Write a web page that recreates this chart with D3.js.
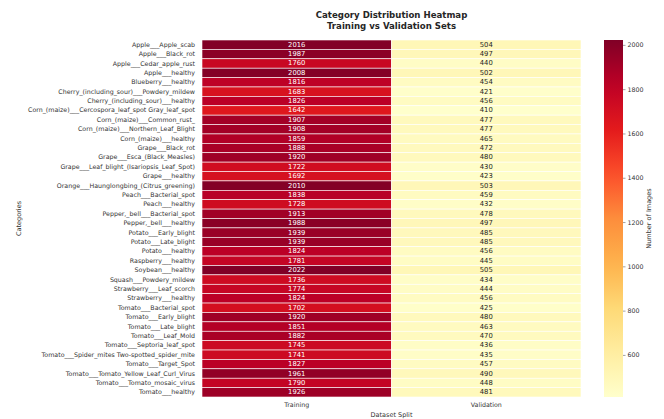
<!DOCTYPE html>
<html>
<head>
<meta charset="utf-8">
<script src="https://cdn.jsdelivr.net/npm/d3@7"></script>
<style>
  html, body { margin: 0; padding: 0; background: #fff; }
  svg { display: block; font-family: "DejaVu Sans", sans-serif; }
</style>
</head>
<body>
<svg id="chart" width="664" height="419"></svg>
<script>
// Plant disease classes and the number of images in each split
const categories = [
  "Apple___Apple_scab",
  "Apple___Black_rot",
  "Apple___Cedar_apple_rust",
  "Apple___healthy",
  "Blueberry___healthy",
  "Cherry_(including_sour)___Powdery_mildew",
  "Cherry_(including_sour)___healthy",
  "Corn_(maize)___Cercospora_leaf_spot Gray_leaf_spot",
  "Corn_(maize)___Common_rust_",
  "Corn_(maize)___Northern_Leaf_Blight",
  "Corn_(maize)___healthy",
  "Grape___Black_rot",
  "Grape___Esca_(Black_Measles)",
  "Grape___Leaf_blight_(Isariopsis_Leaf_Spot)",
  "Grape___healthy",
  "Orange___Haunglongbing_(Citrus_greening)",
  "Peach___Bacterial_spot",
  "Peach___healthy",
  "Pepper,_bell___Bacterial_spot",
  "Pepper,_bell___healthy",
  "Potato___Early_blight",
  "Potato___Late_blight",
  "Potato___healthy",
  "Raspberry___healthy",
  "Soybean___healthy",
  "Squash___Powdery_mildew",
  "Strawberry___Leaf_scorch",
  "Strawberry___healthy",
  "Tomato___Bacterial_spot",
  "Tomato___Early_blight",
  "Tomato___Late_blight",
  "Tomato___Leaf_Mold",
  "Tomato___Septoria_leaf_spot",
  "Tomato___Spider_mites Two-spotted_spider_mite",
  "Tomato___Target_Spot",
  "Tomato___Tomato_Yellow_Leaf_Curl_Virus",
  "Tomato___Tomato_mosaic_virus",
  "Tomato___healthy"
];

const trainCounts = [
  2016, 1987, 1760, 2008, 1816, 1683, 1826, 1642, 1907, 1908,
  1859, 1888, 1920, 1722, 1692, 2010, 1838, 1728, 1913, 1988,
  1939, 1939, 1824, 1781, 2022, 1736, 1774, 1824, 1702, 1920,
  1851, 1882, 1745, 1741, 1827, 1961, 1790, 1926
];

const valCounts = [
  504, 497, 440, 502, 454, 421, 456, 410, 477, 477,
  465, 472, 480, 430, 423, 503, 459, 432, 478, 497,
  485, 485, 456, 445, 505, 434, 444, 456, 425, 480,
  463, 470, 436, 435, 457, 490, 448, 481
];

const splits = ["Training", "Validation"];
const colorbarTicks = [600, 800, 1000, 1200, 1400, 1600, 1800, 2000];

// Long-form cells built from the arrays above
const cells = [];
categories.forEach((c, i) => {
  cells.push({ category: c, split: splits[0], value: trainCounts[i] });
  cells.push({ category: c, split: splits[1], value: valCounts[i] });
});

const svg = d3.select("#chart");
const plot = { left: 202, right: 581, top: 40, bottom: 397 };

const x = d3.scaleBand().domain(splits).range([plot.left, plot.right]);
const y = d3.scaleBand().domain(categories).range([plot.top, plot.bottom]);

const allValues = trainCounts.concat(valCounts);
const vmin = d3.min(allValues), vmax = d3.max(allValues);

// YlOrRd, linearly interpolated between the ColorBrewer stops
const ylOrRd = ["#ffffcc", "#ffeda0", "#fed976", "#feb24c", "#fd8d3c",
                "#fc4e2a", "#e31a1c", "#bd0026", "#800026"];
const color = d3.scaleLinear()
  .domain(d3.range(ylOrRd.length).map(i => vmin + (vmax - vmin) * i / (ylOrRd.length - 1)))
  .range(ylOrRd)
  .interpolate(d3.interpolateRgb)
  .clamp(true);

function luminance(c) {
  const rgb = d3.rgb(c);
  const f = v => { v /= 255; return v <= 0.03928 ? v / 12.92 : Math.pow((v + 0.055) / 1.055, 2.4); };
  return 0.2126 * f(rgb.r) + 0.7152 * f(rgb.g) + 0.0722 * f(rgb.b);
}

// Heatmap cells
svg.append("g")
  .selectAll("rect")
  .data(cells)
  .join("rect")
  .attr("x", d => x(d.split))
  .attr("y", d => y(d.category))
  .attr("width", x.bandwidth())
  .attr("height", y.bandwidth())
  .attr("fill", d => color(d.value))
  .attr("stroke", "#fff")
  .attr("stroke-width", 0.6);

// Cell annotations
svg.append("g")
  .selectAll("text")
  .data(cells)
  .join("text")
  .attr("x", d => x(d.split) + x.bandwidth() / 2)
  .attr("y", d => y(d.category) + y.bandwidth() / 2)
  .attr("text-anchor", "middle")
  .attr("dominant-baseline", "central")
  .attr("font-size", 6.8)
  .attr("fill", d => luminance(color(d.value)) > 0.408 ? "#262626" : "#ffffff")
  .text(d => d.value);

// Category axis
const yAxis = svg.append("g")
  .attr("transform", `translate(${plot.left},0)`)
  .call(d3.axisLeft(y).tickSize(0).tickPadding(7));
yAxis.select(".domain").remove();
yAxis.selectAll("text").attr("font-size", 6.3).attr("fill", "#333")
  .attr("font-family", "DejaVu Sans, sans-serif");

// Split axis
const xAxis = svg.append("g")
  .attr("transform", `translate(0,${plot.bottom})`)
  .call(d3.axisBottom(x).tickSize(0).tickPadding(6));
xAxis.select(".domain").remove();
xAxis.selectAll("text").attr("font-size", 6.3).attr("fill", "#333")
  .attr("font-family", "DejaVu Sans, sans-serif");

// Axis titles
svg.append("text")
  .attr("x", (plot.left + plot.right) / 2)
  .attr("y", 417)
  .attr("text-anchor", "middle")
  .attr("font-size", 6.5)
  .attr("fill", "#333")
  .text("Dataset Split");

svg.append("text")
  .attr("transform", `translate(21,${(plot.top + plot.bottom) / 2}) rotate(-90)`)
  .attr("text-anchor", "middle")
  .attr("font-size", 6.5)
  .attr("fill", "#333")
  .text("Categories");

// Title
const title = svg.append("text")
  .attr("x", (plot.left + plot.right) / 2)
  .attr("text-anchor", "middle")
  .attr("font-size", 8.6)
  .attr("font-weight", "bold")
  .attr("fill", "#262626");
title.append("tspan").attr("x", (plot.left + plot.right) / 2).attr("y", 18)
  .text("Category Distribution Heatmap");
title.append("tspan").attr("x", (plot.left + plot.right) / 2).attr("y", 28.5)
  .text("Training vs Validation Sets");

// Colorbar
const cb = { x: 604, width: 19 };
const cbScale = d3.scaleLinear().domain([vmin, vmax]).range([plot.bottom, plot.top]);

const grad = svg.append("defs").append("linearGradient")
  .attr("id", "cbgrad")
  .attr("x1", 0).attr("y1", 1).attr("x2", 0).attr("y2", 0);
d3.range(0, 1.0001, 0.05).forEach(t => {
  grad.append("stop")
    .attr("offset", t)
    .attr("stop-color", color(vmin + t * (vmax - vmin)));
});

svg.append("rect")
  .attr("x", cb.x)
  .attr("y", plot.top)
  .attr("width", cb.width)
  .attr("height", plot.bottom - plot.top)
  .attr("fill", "url(#cbgrad)");

const cbAxis = svg.append("g")
  .attr("transform", `translate(${cb.x + cb.width},0)`)
  .call(d3.axisRight(cbScale).tickValues(colorbarTicks).tickFormat(d3.format("d"))
    .tickSize(2.5).tickPadding(2));
cbAxis.select(".domain").remove();
cbAxis.selectAll("line").attr("stroke", "#444").attr("stroke-width", 0.5);
cbAxis.selectAll("text").attr("font-size", 6.3).attr("fill", "#333")
  .attr("font-family", "DejaVu Sans, sans-serif");

svg.append("text")
  .attr("transform", `translate(651,${(plot.top + plot.bottom) / 2}) rotate(-90)`)
  .attr("text-anchor", "middle")
  .attr("font-size", 6.5)
  .attr("fill", "#333")
  .text("Number of Images");
</script>
</body>
</html>
